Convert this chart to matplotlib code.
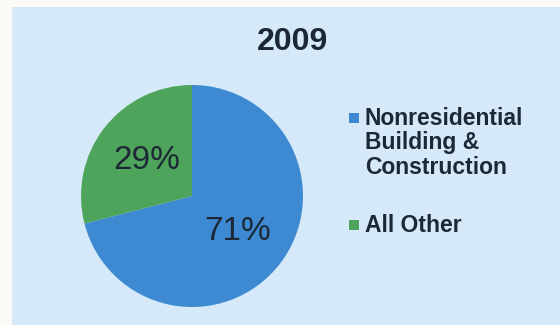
import matplotlib
matplotlib.use("Agg")
import matplotlib.pyplot as plt
from matplotlib.patches import Rectangle

title = "2009"
categories = ["Nonresidential\nBuilding &\nConstruction", "All Other"]
shares = [71, 29]
colors = ["#3d8ad3", "#4fa45b"]

text_color = "#1c2835"
panel_color = "#d6e9f8"
page_color = "#fcfaf6"
font = "Liberation Sans"

W, H = 560, 325
fig = plt.figure(figsize=(W / 100, H / 100), dpi=100)
fig.patch.set_facecolor(page_color)

# light blue slide panel
fig.add_artist(Rectangle((12 / W, 0), 1 - 12 / W, 1 - 7 / H,
                         transform=fig.transFigure, facecolor=panel_color,
                         edgecolor="none", zorder=0))

fig.text(292 / W, 1 - 42 / H, title, ha="center", va="center",
         fontsize=23, fontweight="bold", color=text_color, family=font)

# pie
cx, cy, r = 192, 196, 111
ax = fig.add_axes([(cx - r) / W, 1 - (cy + r) / H, 2 * r / W, 2 * r / H])
wedges, _, autotexts = ax.pie(
    shares, colors=colors, startangle=90, counterclock=False,
    autopct="%d%%", pctdistance=0.52, radius=1,
    wedgeprops=dict(linewidth=0),
    textprops=dict(fontsize=24, color=text_color, family=font))
ax.set_xlim(-1, 1)
ax.set_ylim(-1, 1)
ax.set_aspect("auto")
ax.axis("off")

# legend
leg_y = [118, 225]
for wedge, label, y in zip(wedges, categories, leg_y):
    fig.add_artist(Rectangle((349 / W, 1 - (y + 5) / H), 10 / W, 10 / H,
                             transform=fig.transFigure,
                             facecolor=wedge.get_facecolor(), edgecolor="none"))
    fig.text(365 / W, 1 - (y - 11) / H, label, ha="left", va="top",
             fontsize=16.5, fontweight="bold", color=text_color,
             family=font, linespacing=1.07)

fig.savefig("out.png", dpi=100, facecolor=fig.get_facecolor())
